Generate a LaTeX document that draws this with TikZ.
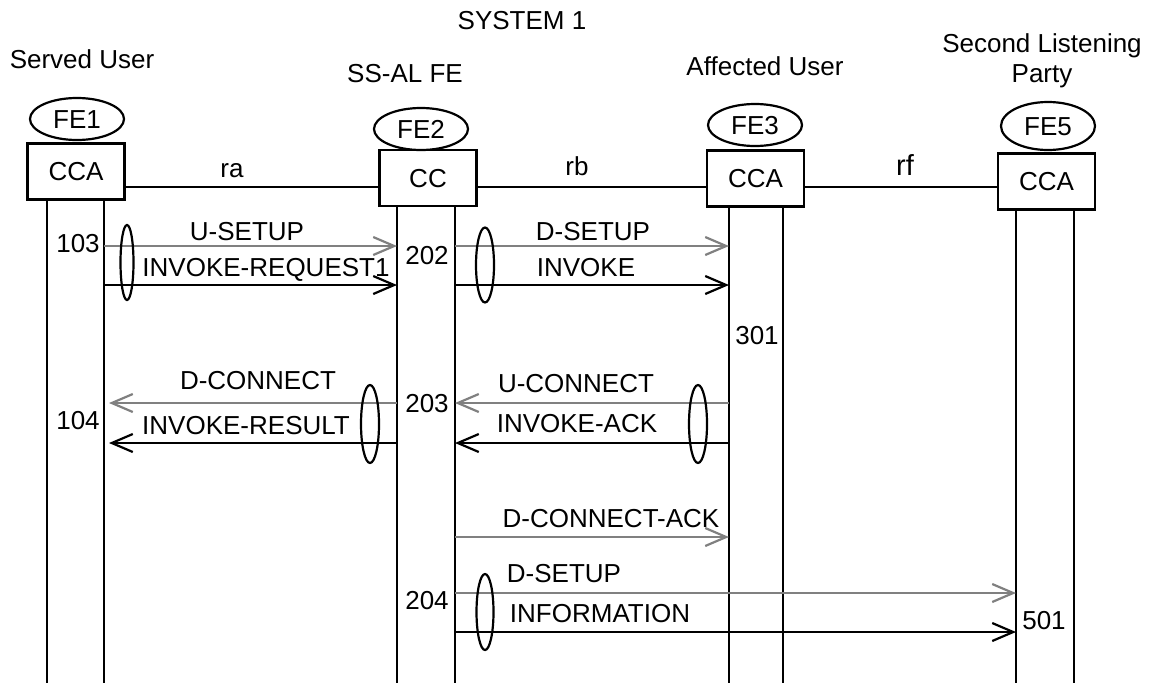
\documentclass[tikz,border=0pt]{standalone}
\usepackage{fontspec}
\setmainfont{Liberation Sans}
\usetikzlibrary{positioning,shapes.geometric,arrows.meta}

\begin{document}
\begin{tikzpicture}[x=0.5pt,y=-0.5pt,
  font=\fontsize{13pt}{15pt}\selectfont,
  lbl/.style={inner sep=0pt,text height=9.3pt,text depth=0pt},
  fe/.style={draw,ellipse,line width=1.1pt,minimum width=47pt,minimum height=21pt,inner sep=0pt,text height=9.3pt,text depth=0pt},
  fa/.style={draw,rectangle,line width=1.2pt,minimum width=48.5pt,minimum height=28pt,inner sep=0pt,text height=9.3pt,text depth=0pt},
  life/.style={line width=1.2pt},
  msg/.style={line width=1.1pt,-{Straight Barb[length=10.5pt,width=9pt]}},
  sig/.style={msg,black!50},
  grp/.style={draw,ellipse,line width=1.1pt,minimum width=9pt,minimum height=38pt,inner sep=0pt}]
\useasboundingbox (0,0) rectangle (1154,691);
% ---- heads ----
\node[lbl] (sys) at (522,20) {SYSTEM 1};
\node[lbl] (su) at (82,59) {Served User};
\node[lbl] (ssal) at (405,73) {SS-AL FE};
\node[lbl] (au) at (765,66) {Affected User};
\node[align=center,inner sep=0pt] (slp) at (1042,60.5) {Second Listening\\Party};
\node[fe] (fe1) at (77,119) {FE1};
\node[fe] (fe2) at (421,129) {FE2};
\node[fe] (fe3) at (755,125) {FE3};
\node[fe,minimum height=24pt] (fe5) at (1048,126) {FE5};
\node[fa] (cca1) at (76,171.5) {CCA};
\node[fa] (cc2) at (428,178) {CC};
\node[fa] (cca3) at (755.5,178.5) {CCA};
\node[fa] (cca5) at (1046.5,181.5) {CCA};
% ---- relationships ----
\coordinate (rel) at (0,187);
\draw[life] (cca1.east |- rel) -- (cc2.west |- rel);
\draw[life] (cc2.east |- rel) -- (cca3.west |- rel);
\draw[life] (cca3.east |- rel) -- (cca5.west |- rel);
\node[lbl] (ra) at (232,168) {ra};
\node[lbl] (rb) at (577,166) {rb};
\node[lbl,font=\fontsize{14.5pt}{17pt}\selectfont,text height=10.5pt] (rf) at (905,165) {rf};
% ---- lifelines ----
\coordinate (l1a) at (47,683);
\coordinate (l1b) at (104,683);
\coordinate (l2a) at (397,683);
\coordinate (l2b) at (455,683);
\coordinate (l3a) at (729,683);
\coordinate (l3b) at (783,683);
\coordinate (l5a) at (1016,683);
\coordinate (l5b) at (1074,683);
\foreach \l/\b in {l1a/cca1,l1b/cca1,l2a/cc2,l2b/cc2,l3a/cca3,l3b/cca3,l5a/cca5,l5b/cca5}
  \draw[life] (\b.south -| \l) -- (\l);
% ---- flows ----
\coordinate (r1) at (0,246);
\coordinate (r2) at (0,285);
\coordinate (r3) at (0,403);
\coordinate (r4) at (0,443);
\coordinate (r5) at (0,537);
\coordinate (r6) at (0,593);
\coordinate (r7) at (0,632);
\draw[sig] (l1b |- r1) -- (l2a |- r1);
\draw[msg] (l1b |- r2) -- (l2a |- r2);
\draw[sig] (l2b |- r1) -- (l3a |- r1);
\draw[msg] (l2b |- r2) -- (l3a |- r2);
\draw[sig] (l3a |- r3) -- (l2b |- r3);
\draw[msg] (l3a |- r4) -- (l2b |- r4);
\draw[sig,shorten >=2.5pt] (l2a |- r3) -- (l1b |- r3);
\draw[msg,shorten >=2.5pt] (l2a |- r4) -- (l1b |- r4);
\draw[sig] (l2b |- r5) -- (l3a |- r5);
\draw[sig] (l2b |- r6) -- (l5a |- r6);
\draw[msg] (l2b |- r7) -- (l5a |- r7);
\node[lbl] (usetup) at (247,231) {U-SETUP};
\node[lbl] (invreq) at (266,267) {INVOKE-REQUEST1};
\node[lbl] (dsetup) at (593,231) {D-SETUP};
\node[lbl] (inv) at (586,267) {INVOKE};
\node[lbl] (dconn) at (258,380) {D-CONNECT};
\node[lbl] (invres) at (246,425) {INVOKE-RESULT};
\node[lbl] (uconn) at (576,383) {U-CONNECT};
\node[lbl] (invack) at (577,423) {INVOKE-ACK};
\node[lbl] (dconnack) at (611,518) {D-CONNECT-ACK};
\node[lbl] (dsetup2) at (564,573) {D-SETUP};
\node[lbl] (info) at (600,613) {INFORMATION};
% ---- grouping ----
\node[grp,minimum width=6.5pt,minimum height=37.5pt] (g103) at (127,262.5) {};
\node[grp,minimum height=37.5pt] (g202) at (485,265) {};
\node[grp,minimum height=39pt] (g104) at (370,424) {};
\node[grp,minimum height=39pt] (g203) at (698,424) {};
\node[grp,minimum width=8.5pt] (g204) at (485,612) {};
% ---- actions ----
\node[lbl] (a103) at (78,243) {103};
\node[lbl] (a104) at (78,420) {104};
\node[lbl] (a202) at (427,255) {202};
\node[lbl] (a203) at (427,403) {203};
\node[lbl] (a204) at (427,600) {204};
\node[lbl] (a301) at (757,335) {301};
\node[lbl] (a501) at (1044,620) {501};
\end{tikzpicture}
\end{document}
